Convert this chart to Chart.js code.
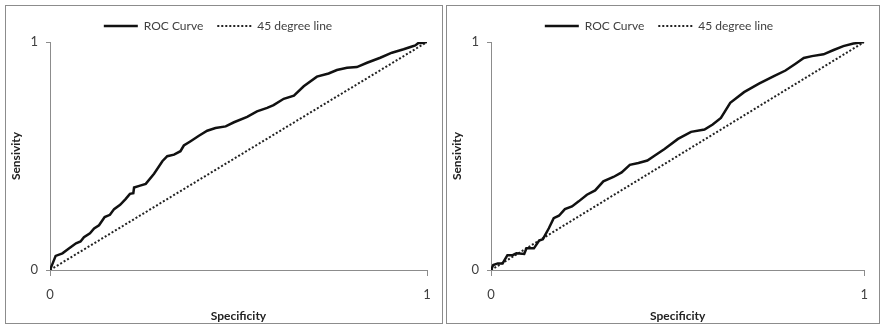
<!DOCTYPE html>
<html>
<head>
<meta charset="utf-8">
<title>ROC</title>
<script src="https://cdn.jsdelivr.net/npm/chart.js@4"></script>
<style>
  body { margin: 0; background: #fff; width: 884px; height: 326px; overflow: hidden; position: relative; }
  .panel { position: absolute; top: 5px; height: 317px; border: 1px solid #8c8c8c; }
  #leftPanel { left: 5px; width: 436px; }
  #rightPanel { left: 446px; width: 432px; }
  canvas { display: block; }
</style>
</head>
<body>
<div class="panel" id="leftPanel"><canvas id="leftChart" width="436" height="317"></canvas></div>
<div class="panel" id="rightPanel"><canvas id="rightChart" width="432" height="317"></canvas></div>

<script>
// ====== Data ======
const X_TICKS = [0, 1];
const Y_TICKS = [0, 1];
const DIAG_X = [0, 1];
const DIAG_Y = [0, 1];

const LEFT_FPR = [0, 0.015, 0.033, 0.051, 0.069, 0.081, 0.090, 0.106, 0.117, 0.130, 0.145, 0.159, 0.170,
  0.186, 0.201, 0.212, 0.221, 0.223, 0.239, 0.254, 0.276, 0.298, 0.311, 0.329, 0.346, 0.355, 0.373,
  0.395, 0.417, 0.439, 0.466, 0.488, 0.523, 0.549, 0.576, 0.593, 0.620, 0.647, 0.673, 0.708, 0.739,
  0.761, 0.788, 0.814, 0.841, 0.876, 0.907, 0.938, 0.956, 0.969, 0.978, 0.987, 1];
const LEFT_TPR = [0, 0.062, 0.073, 0.095, 0.117, 0.125, 0.144, 0.161, 0.182, 0.196, 0.232, 0.242, 0.267,
  0.286, 0.312, 0.334, 0.337, 0.362, 0.370, 0.378, 0.422, 0.477, 0.499, 0.506, 0.521, 0.546, 0.565,
  0.589, 0.611, 0.623, 0.630, 0.648, 0.672, 0.696, 0.711, 0.723, 0.751, 0.765, 0.806, 0.848, 0.862,
  0.877, 0.887, 0.890, 0.909, 0.931, 0.953, 0.968, 0.978, 0.985, 0.997, 0.996, 1];

const RIGHT_FPR = [0, 0.006, 0.018, 0.031, 0.044, 0.058, 0.068, 0.089, 0.095, 0.115, 0.129, 0.139, 0.155,
  0.168, 0.182, 0.198, 0.217, 0.235, 0.257, 0.279, 0.301, 0.328, 0.350, 0.372, 0.395, 0.419, 0.439,
  0.465, 0.501, 0.536, 0.572, 0.594, 0.616, 0.641, 0.678, 0.718, 0.758, 0.789, 0.816, 0.838, 0.860,
  0.891, 0.918, 0.944, 0.971, 1];
const RIGHT_TPR = [0, 0.022, 0.029, 0.029, 0.065, 0.065, 0.073, 0.070, 0.095, 0.095, 0.129, 0.135, 0.183,
  0.227, 0.238, 0.267, 0.279, 0.301, 0.330, 0.349, 0.389, 0.408, 0.428, 0.461, 0.469, 0.480, 0.502,
  0.531, 0.575, 0.606, 0.616, 0.638, 0.667, 0.733, 0.780, 0.817, 0.850, 0.875, 0.905, 0.930, 0.938,
  0.946, 0.965, 0.982, 0.993, 1];

// ====== Helpers ======
const FONT = "Lato";
const TEXT_COLOR = "#404040";
const AXIS_COLOR = "#8c8c8c";

function toPoints(xs, ys) {
  return xs.map((x, i) => ({ x: x, y: ys[i] }));
}

// point-style legend items lose the dataset dash/width, so put them back
function legendLabels(chart) {
  const items = Chart.defaults.plugins.legend.labels.generateLabels(chart);
  items.forEach(item => {
    const ds = chart.data.datasets[item.datasetIndex];
    item.lineDash = ds.borderDash || [];
    item.lineWidth = ds.borderWidth;
    item.strokeStyle = ds.borderColor;
  });
  return items;
}

function buildChart(canvasId, fpr, tpr, rightPad) {
  const ctx = document.getElementById(canvasId).getContext('2d');
  return new Chart(ctx, {
    type: 'scatter',
    data: {
      datasets: [
        {
          label: 'ROC Curve',
          data: toPoints(fpr, tpr),
          showLine: true,
          borderColor: '#111',
          backgroundColor: '#111',
          borderWidth: 2.5,
          pointRadius: 0,
          tension: 0
        },
        {
          label: '45 degree line',
          data: toPoints(DIAG_X, DIAG_Y),
          showLine: true,
          borderColor: '#222',
          backgroundColor: '#222',
          borderWidth: 2,
          borderDash: [2, 2],
          pointRadius: 0
        }
      ]
    },
    options: {
      responsive: false,
      animation: false,
      layout: { padding: { left: 3, right: rightPad, top: 0, bottom: 0 } },
      plugins: {
        tooltip: { enabled: false },
        legend: {
          position: 'top',
          labels: {
            usePointStyle: true,
            pointStyle: 'line',
            pointStyleWidth: 34,
            color: TEXT_COLOR,
            font: { family: FONT, size: 12 },
            padding: 14,
            generateLabels: legendLabels
          }
        }
      },
      scales: {
        x: {
          type: 'linear',
          min: 0, max: 1,
          afterBuildTicks: s => { s.ticks = X_TICKS.map(v => ({ value: v })); },
          afterFit: s => { s.height = 53; },
          border: { color: AXIS_COLOR },
          grid: { drawOnChartArea: false, tickLength: 6, color: AXIS_COLOR },
          ticks: { color: TEXT_COLOR, font: { family: FONT, size: 13 }, padding: 11, maxRotation: 0 },
          title: { display: true, text: 'Specificity', color: '#222', font: { family: FONT, size: 12, weight: 'bold' }, padding: { top: 2, bottom: 0 } }
        },
        y: {
          type: 'linear',
          min: 0, max: 1,
          afterBuildTicks: s => { s.ticks = Y_TICKS.map(v => ({ value: v })); },
          afterFit: s => { s.width = 41; },
          border: { color: AXIS_COLOR },
          grid: { drawOnChartArea: false, tickLength: 4, color: AXIS_COLOR },
          ticks: { color: TEXT_COLOR, font: { family: FONT, size: 13 }, padding: 8 },
          title: { display: true, text: 'Sensivity', color: '#222', font: { family: FONT, size: 12, weight: 'bold' }, padding: 0 }
        }
      }
    }
  });
}

// ====== Initialize ======
buildChart('leftChart', LEFT_FPR, LEFT_TPR, 15);
buildChart('rightChart', RIGHT_FPR, RIGHT_TPR, 11);
</script>
</body>
</html>
